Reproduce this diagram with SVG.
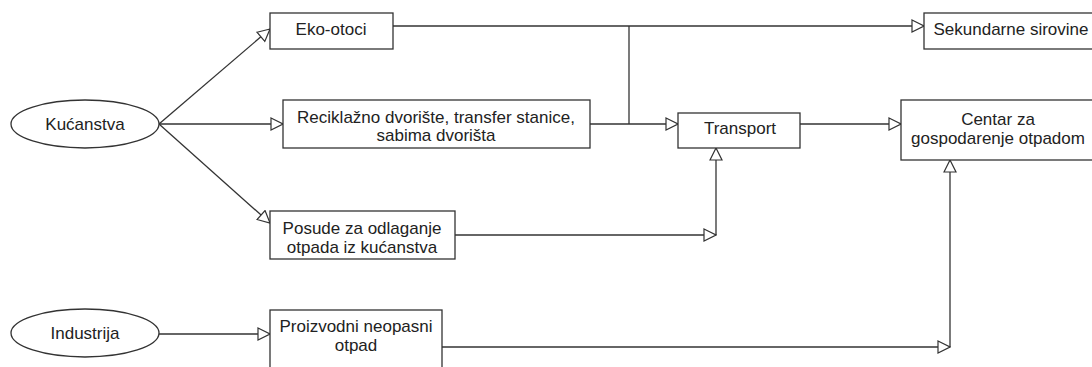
<svg xmlns="http://www.w3.org/2000/svg" width="1092" height="367" viewBox="0 0 1092 367">
<style>
.box{fill:#fff;stroke:#333;stroke-width:1.3}
.t{font-family:"Liberation Sans",Arial,sans-serif;font-size:17px;fill:#222;text-anchor:middle}
.c{fill:none;stroke:#333;stroke-width:1.3}
</style>
<defs>
<marker id="arr" markerUnits="userSpaceOnUse" markerWidth="14" markerHeight="14" refX="12" refY="6" orient="auto" viewBox="-1 -1 14 14">
<path d="M0,0 L12,6 L0,12 Z" fill="#fff" stroke="#333" stroke-width="1.2"/>
</marker>
</defs>
<rect width="1092" height="367" fill="#fff"/>
<g id="connectors">
<path class="c" d="M159,124 L270,29" marker-end="url(#arr)"/>
<path class="c" d="M159,124 L283,124" marker-end="url(#arr)"/>
<path class="c" d="M159,124 L270,223" marker-end="url(#arr)"/>
<path class="c" d="M158,334 L270,334" marker-end="url(#arr)"/>
<path class="c" d="M393,26 L924,26" marker-end="url(#arr)"/>
<path class="c" d="M629,26 L629,124"/>
<path class="c" d="M590,124 L678,124" marker-end="url(#arr)"/>
<path class="c" d="M800,124 L901,124" marker-end="url(#arr)"/>
<path class="c" d="M455,235 L716,235" marker-end="url(#arr)"/>
<path class="c" d="M716,235 L716,148" marker-end="url(#arr)"/>
<path class="c" d="M442,347 L950,347" marker-end="url(#arr)"/>
<path class="c" d="M950,347 L950,160" marker-end="url(#arr)"/>
</g>
<g id="kucanstva">
<ellipse class="box" cx="85" cy="124" rx="74" ry="24"/>
<text class="t" x="85" y="130">Kućanstva</text>
</g>
<g id="industrija">
<ellipse class="box" cx="85" cy="333" rx="74" ry="24"/>
<text class="t" x="85" y="339">Industrija</text>
</g>
<g id="eko-otoci">
<rect class="box" x="270" y="13" width="123" height="36"/>
<text class="t" x="331" y="35">Eko-otoci</text>
</g>
<g id="reciklazno">
<rect class="box" x="283" y="100" width="307" height="48"/>
<text class="t" x="436" y="123">Reciklažno dvorište, transfer stanice,</text>
<text class="t" x="436" y="141">sabima dvorišta</text>
</g>
<g id="posude">
<rect class="box" x="270" y="211" width="185" height="48"/>
<text class="t" x="362" y="234">Posude za odlaganje</text>
<text class="t" x="362" y="253">otpada iz kućanstva</text>
</g>
<g id="proizvodni">
<rect class="box" x="270" y="310" width="172" height="70"/>
<text class="t" x="356" y="332">Proizvodni neopasni</text>
<text class="t" x="356" y="351">otpad</text>
</g>
<g id="transport">
<rect class="box" x="678" y="113" width="122" height="35"/>
<text class="t" x="740" y="134">Transport</text>
</g>
<g id="sekundarne">
<rect class="box" x="924" y="13" width="180" height="36"/>
<text class="t" x="1011" y="35">Sekundarne sirovine</text>
</g>
<g id="centar">
<rect class="box" x="901" y="100" width="200" height="60"/>
<text class="t" x="998" y="125">Centar za</text>
<text class="t" x="998" y="144">gospodarenje otpadom</text>
</g>
</svg>
